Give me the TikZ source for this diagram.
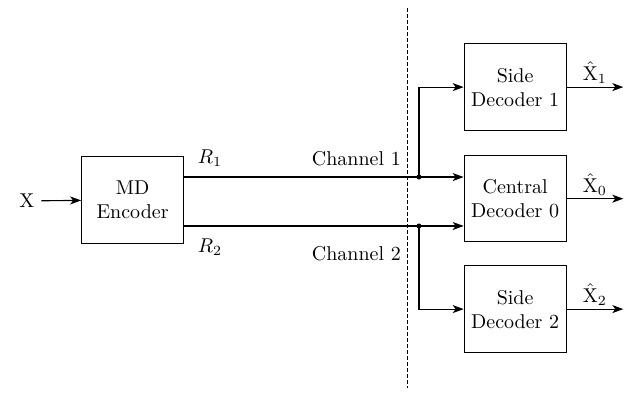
\documentclass[tikz,border=0pt]{standalone}
\usepackage{amsmath,amssymb}
\usepackage{tikz}
\usetikzlibrary{positioning,calc,arrows.meta}

\begin{document}
\begin{tikzpicture}[>={Stealth[length=5.5pt,width=4pt,inset=1.5pt]},line width=0.55pt,
            block/.style={draw,align=center,minimum width=1.79cm,minimum height=1.52cm,inner sep=1pt},
            jdot/.style={circle,fill,inner sep=0pt,minimum size=2.5pt},
            outlabel/.style={midway,above,inner sep=1.5pt}]

            \useasboundingbox (0,0) rectangle (11.05,-6.92);

            % Encoder and source
            \node[block] (enc) at (2.33,-3.51) {MD\\Encoder};
            \node (src) at (0.47,-3.53) {X};
            \draw[->] (src) -- (enc);

            % Decoders
            \node[block] (dec1) at (9.05,-1.53) {Side\\Decoder 1};
            \node[block] (dec0) at (9.05,-3.49) {Central\\Decoder 0};
            \node[block] (dec2) at (9.05,-5.43) {Side\\Decoder 2};

            % Channel boundary
            \coordinate (chtop) at (7.15,-0.14);
            \coordinate (chbot) at (7.15,-6.82);
            \draw[dash pattern=on 2pt off 1pt,line width=0.4pt] (chtop) -- (chbot);

            % Split points
            \node[jdot] (j1) at (7.36,-3.11) {};
            \node[jdot] (j2) at (7.36,-3.97) {};

            \draw (enc.east |- j1) -- (j1.center);
            \draw (enc.east |- j2) -- (j2.center);

            \node (rone) at (3.69,-2.78) {$R_1$};
            \node (rtwo) at (3.69,-4.34) {$R_2$};
            \node (chone) at (6.26,-2.78) {Channel 1};
            \node (chtwo) at (6.26,-4.45) {Channel 2};

            \draw[->] (j1.center) |- (dec1.west);
            \draw[->] (j1.center) -- (dec0.west |- j1);
            \draw[->] (j2.center) -- (dec0.west |- j2);
            \draw[->] (j2.center) |- (dec2.west);

            % Outputs
            \coordinate (out1) at (10.95,-1.53);
            \coordinate (out0) at (10.95,-3.49);
            \coordinate (out2) at (10.95,-5.43);
            \draw[->] (dec1) -- (out1) node[outlabel] (xh1) {$\hat{\mathrm{X}}_1$};
            \draw[->] (dec0) -- (out0) node[outlabel] (xh0) {$\hat{\mathrm{X}}_0$};
            \draw[->] (dec2) -- (out2) node[outlabel] (xh2) {$\hat{\mathrm{X}}_2$};

\end{tikzpicture}
\end{document}
